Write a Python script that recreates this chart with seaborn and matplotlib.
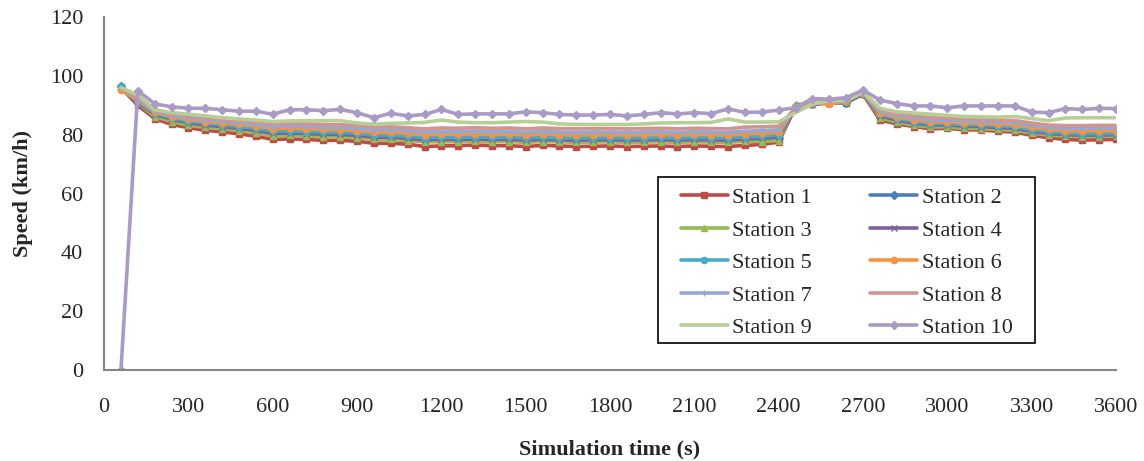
import numpy as np
import pandas as pd
import seaborn as sns
import matplotlib.pyplot as plt
from matplotlib.patches import Rectangle

time_s = list(range(60, 3601, 60))

station_1 = [96.0, 90.0, 85.5, 83.5, 82.4, 81.5, 81.0, 80.3, 79.5, 78.4,
             78.6, 78.4, 78.1, 78.1, 77.8, 77.1, 77.1, 76.8, 76.0, 76.2,
             76.3, 76.5, 76.3, 76.3, 76.0, 76.4, 76.2, 76.0, 76.1, 76.2,
             76.0, 76.1, 76.2, 76.0, 76.2, 76.1, 76.0, 76.4, 76.7, 77.5,
             89.4, 90.3, 90.8, 90.9, 93.8, 85.0, 83.7, 82.8, 82.0, 82.2,
             81.7, 81.6, 81.2, 80.9, 79.8, 79.0, 78.4, 78.2, 78.3, 78.4]
station_2 = [96.5, 90.8, 86.8, 85.0, 83.8, 83.0, 82.5, 81.9, 81.2, 80.2,
             80.3, 80.1, 79.9, 79.8, 79.5, 78.9, 78.9, 78.5, 78.0, 78.2,
             78.1, 78.3, 78.1, 78.2, 77.9, 78.2, 78.0, 77.9, 78.0, 78.0,
             77.9, 78.0, 78.1, 77.9, 78.1, 78.0, 77.9, 78.3, 78.5, 79.0,
             89.8, 90.5, 91.0, 90.8, 94.0, 86.2, 84.8, 83.8, 83.0, 83.2,
             82.7, 82.6, 82.2, 82.0, 81.0, 80.3, 79.8, 79.6, 79.7, 79.8]
station_3 = [96.0, 91.0, 86.2, 84.5, 83.2, 82.5, 82.0, 81.4, 80.6, 79.6,
             79.8, 79.6, 79.3, 79.3, 79.0, 78.4, 78.4, 78.0, 77.6, 77.6,
             77.6, 77.8, 77.6, 77.7, 77.4, 77.7, 77.6, 77.4, 77.5, 77.6,
             77.4, 77.5, 77.6, 77.4, 77.6, 77.5, 77.4, 77.8, 77.7, 78.0,
             90.3, 90.6, 91.0, 91.2, 94.0, 85.8, 84.3, 83.3, 82.6, 82.7,
             82.2, 82.1, 81.8, 81.5, 80.6, 79.9, 79.5, 79.4, 79.4, 79.5]
station_4 = [96.0, 91.2, 87.0, 85.3, 84.1, 83.3, 82.8, 82.2, 81.5, 80.5,
             80.6, 80.4, 80.2, 80.1, 79.8, 79.2, 79.2, 78.8, 78.3, 78.5,
             78.4, 78.6, 78.4, 78.5, 78.2, 78.5, 78.3, 78.2, 78.3, 78.3,
             78.2, 78.3, 78.4, 78.2, 78.4, 78.3, 78.2, 78.6, 78.8, 79.2,
             89.5, 90.4, 91.2, 91.0, 93.9, 86.5, 85.0, 84.0, 83.3, 83.4,
             82.9, 82.8, 82.5, 82.2, 81.2, 80.5, 80.0, 79.9, 79.9, 80.0]
station_5 = [96.5, 91.5, 87.3, 85.7, 84.6, 83.9, 83.4, 82.8, 82.2, 81.2,
             81.3, 81.1, 80.9, 80.8, 80.5, 79.9, 79.9, 79.5, 79.0, 79.2,
             79.1, 79.3, 79.1, 79.2, 78.9, 79.2, 79.0, 78.9, 79.0, 79.0,
             78.9, 79.0, 79.1, 78.9, 79.1, 79.0, 78.9, 79.3, 79.5, 79.9,
             89.7, 90.6, 91.3, 91.2, 94.2, 87.0, 85.5, 84.5, 83.8, 83.8,
             83.4, 83.3, 83.0, 82.7, 81.7, 81.0, 80.5, 80.4, 80.4, 80.5]
station_6 = [95.2, 91.8, 87.8, 86.2, 85.2, 84.5, 84.0, 83.5, 83.0, 82.1,
             82.2, 82.0, 81.8, 81.7, 81.4, 80.8, 80.8, 80.5, 80.0, 80.2,
             80.1, 80.3, 80.1, 80.2, 79.9, 80.2, 80.0, 79.9, 80.0, 80.0,
             79.9, 80.0, 80.1, 79.9, 80.1, 80.0, 79.9, 80.3, 80.5, 80.8,
             89.5, 90.8, 90.5, 91.5, 94.3, 87.4, 86.0, 85.1, 84.4, 84.4,
             84.0, 83.9, 83.6, 83.4, 82.5, 81.8, 81.3, 81.3, 81.4, 81.3]
station_7 = [96.0, 92.2, 88.2, 86.6, 85.7, 85.0, 84.6, 84.1, 83.6, 82.8,
             83.0, 82.8, 82.6, 82.5, 82.2, 81.6, 81.7, 81.4, 80.9, 81.1,
             81.0, 81.2, 81.0, 81.1, 80.8, 81.1, 80.9, 80.8, 80.9, 80.9,
             80.8, 80.9, 81.0, 80.8, 81.0, 80.9, 80.8, 81.2, 81.4, 81.7,
             89.2, 90.7, 91.4, 91.6, 94.4, 88.0, 86.5, 85.7, 85.0, 85.0,
             84.6, 84.5, 84.3, 84.1, 83.2, 82.5, 82.2, 82.2, 82.3, 82.3]
station_8 = [96.0, 92.8, 88.6, 87.1, 86.3, 85.6, 85.2, 84.8, 84.3, 83.6,
             83.8, 83.7, 83.5, 83.4, 83.1, 82.6, 82.7, 82.4, 82.0, 82.3,
             82.2, 82.4, 82.2, 82.3, 82.0, 82.3, 82.1, 82.0, 82.1, 82.1,
             82.0, 82.1, 82.2, 82.0, 82.2, 82.1, 82.0, 82.6, 82.7, 82.9,
             89.0, 90.9, 91.5, 91.8, 94.5, 88.6, 87.1, 86.4, 85.8, 85.6,
             85.3, 85.2, 85.0, 84.8, 84.0, 83.3, 83.1, 83.1, 83.2, 83.2]
station_9 = [96.0, 93.5, 88.5, 87.5, 87.0, 86.4, 85.8, 85.4, 85.0, 84.5,
             84.7, 84.8, 84.8, 84.8, 84.0, 83.6, 83.9, 84.0, 84.2, 85.0,
             84.3, 84.1, 84.1, 84.3, 84.5, 84.3, 83.7, 83.5, 83.5, 83.5,
             83.5, 83.7, 84.0, 84.1, 84.1, 84.2, 85.4, 84.3, 84.3, 84.4,
             87.5, 90.5, 91.5, 91.6, 94.5, 89.0, 87.8, 87.4, 87.0, 86.6,
             86.2, 86.1, 86.0, 86.2, 85.5, 84.8, 85.7, 85.8, 85.8, 85.8]
station_10 = [0.0, 95.0, 90.5, 89.5, 89.0, 89.0, 88.5, 88.0, 88.0, 87.0,
              88.5, 88.5, 88.2, 88.6, 87.5, 85.8, 87.3, 86.4, 86.9, 88.6,
              86.9, 87.1, 87.1, 87.1, 87.8, 87.5, 86.9, 86.7, 86.7, 86.9,
              86.4, 86.9, 87.5, 87.1, 87.5, 87.2, 88.8, 87.6, 87.7, 88.4,
              89.2, 92.3, 92.1, 92.6, 95.2, 91.8, 90.6, 89.8, 89.8, 89.2,
              89.8, 89.8, 89.8, 89.8, 87.7, 87.5, 88.9, 88.6, 89.0, 88.9]

stations = [f'Station {i}' for i in range(1, 11)]
speeds = [station_1, station_2, station_3, station_4, station_5,
          station_6, station_7, station_8, station_9, station_10]

colors = ['#BE4B48', '#4A7EBB', '#98B954', '#7D60A0', '#46AAC5',
          '#F69240', '#93A9D3', '#D09493', '#B7CE95', '#A99BC6']
markers = ['s', 'D', '^', 'x', 'o', 'o', '+', '_', None, 'D']

sns.set_style('white')
plt.rcParams['font.family'] = ['Liberation Serif', 'DejaVu Serif']

fig, ax = plt.subplots(figsize=(11.44, 4.61), dpi=100)
fig.subplots_adjust(left=0.091, right=0.9755, top=0.963, bottom=0.197)

for name, vals, c, m in zip(stations, speeds, colors, markers):
    df = pd.DataFrame({'t': time_s, 'speed': vals})
    sns.lineplot(df, x='t', y='speed', ax=ax, color=c, marker=m,
                 markersize=4.5, markeredgewidth=1.0, markeredgecolor=c,
                 linewidth=2.6, label=name)

ax.set_xlim(0, 3600)
ax.set_ylim(0, 120)
ax.set_xticks(np.arange(0, 3601, 300))
ax.set_yticks(np.arange(0, 121, 20))
ax.tick_params(axis='x', direction='out', length=5, width=1.5, color='#868686',
               labelsize=16, pad=15)
ax.tick_params(axis='y', direction='out', length=5, width=1.5, color='#868686',
               labelsize=16, pad=10)
sns.despine(ax=ax)
for side in ['left', 'bottom']:
    ax.spines[side].set_color('#868686')
    ax.spines[side].set_linewidth(1.5)

ax.set_xlabel('Simulation time (s)', fontsize=16, fontweight='bold', labelpad=16.5)
ax.set_ylabel('Speed (km/h)', fontsize=16, fontweight='bold', labelpad=12)

# row-major legend order like the original (1 2 / 3 4 / ...)
handles, labels = ax.get_legend_handles_labels()
order = [0, 2, 4, 6, 8, 1, 3, 5, 7, 9]
leg = ax.legend([handles[i] for i in order], [labels[i] for i in order],
                ncol=2, loc='upper left', bbox_to_anchor=(0.570, 0.517),
                borderaxespad=0, frameon=False, fontsize=16,
                handlelength=2.1, handletextpad=0.22, columnspacing=2.62,
                labelspacing=0.535, borderpad=0)
# Excel-style box: wider side padding than top/bottom
ax.add_patch(Rectangle((0.5474, 0.077), 0.3726, 0.470, transform=ax.transAxes,
                       fill=False, edgecolor='black', linewidth=1.2,
                       zorder=5, clip_on=False))

plt.savefig('out.png')
plt.close()
